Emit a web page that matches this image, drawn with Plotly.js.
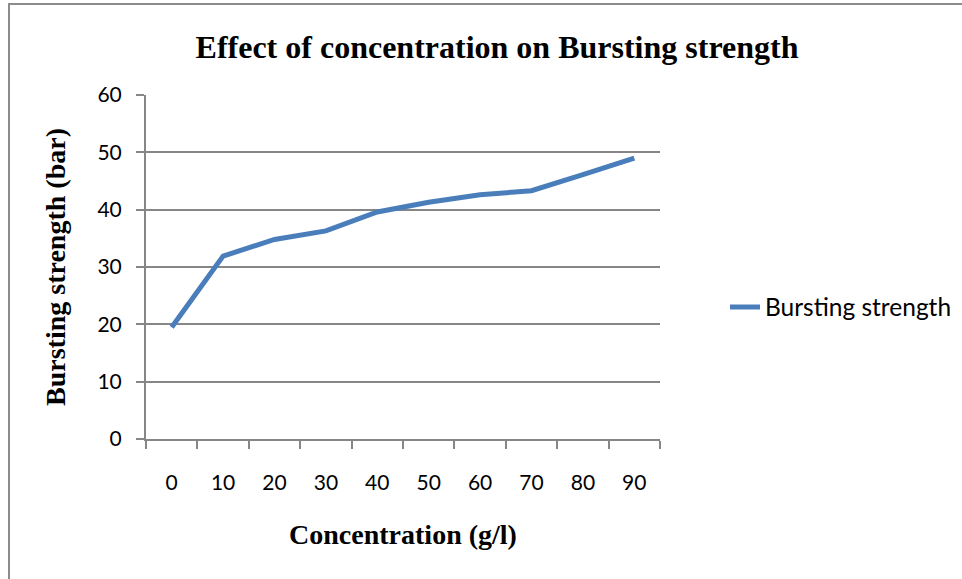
<!DOCTYPE html>
<html>
<head>
<meta charset="utf-8">
<script src="https://cdn.plot.ly/plotly-3.0.1.min.js"></script>
<style>
html,body{margin:0;padding:0;background:#fff;overflow:hidden;}
#wrap{position:relative;width:962px;height:579px;}
#chart{position:absolute;left:0;top:0;width:962px;height:579px;}
#frame{position:absolute;left:8px;top:3px;width:1000px;height:700px;border-left:2px solid #8c8c8c;border-top:2px solid #8c8c8c;pointer-events:none;}
</style>
</head>
<body>
<div id="wrap"><div id="chart"></div><div id="frame"></div></div>
<script>
const categories = ["0","10","20","30","40","50","60","70","80","90"];
const burstingStrength = [19.5, 31.9, 34.8, 36.3, 39.6, 41.3, 42.6, 43.3, 46.1, 49.0];
const seriesName = "Bursting strength";
const yTicks = [0, 10, 20, 30, 40, 50, 60];

const trace = {
  type: "scatter",
  mode: "lines",
  x: categories,
  y: burstingStrength,
  name: seriesName,
  line: {color: "#4A7EBB", width: 5},
  showlegend: true
};

const L = 146, R = 4, PW = 962 - L - R;
const layout = {
  width: 962, height: 579,
  margin: {l: L, r: R, t: 95, b: 140},
  paper_bgcolor: "#ffffff",
  plot_bgcolor: "#ffffff",
  font: {family: "Lato, 'Open Sans', sans-serif", color: "#000", size: 18},
  title: {
    text: "<b>Effect of concentration on Bursting strength</b>",
    font: {family: "'Liberation Serif', 'Times New Roman', serif", size: 32, color: "#000"},
    x: 497/962, xref: "container", xanchor: "center",
    y: 1 - 47/579, yref: "container", yanchor: "middle"
  },
  xaxis: {
    domain: [0, (660 - L) / PW],
    type: "category",
    categoryorder: "array",
    categoryarray: categories,
    range: [-0.5, 9.5],
    showgrid: false,
    zeroline: false,
    showline: true, linecolor: "#868686", linewidth: 2,
    ticks: "outside", tickson: "boundaries", ticklen: 8, tickcolor: "#868686", tickwidth: 2,
    ticklabelstandoff: 24,
    tickfont: {family: "Lato, 'Open Sans', sans-serif", size: 21, color: "#000"},
    title: {
      text: "<b>Concentration (g/l)</b>",
      font: {family: "'Liberation Serif', 'Times New Roman', serif", size: 28, color: "#000"},
      standoff: 31
    }
  },
  yaxis: {
    range: [0, 60],
    tickvals: yTicks,
    showgrid: true, gridcolor: "#868686", gridwidth: 2,
    zeroline: false,
    showline: true, linecolor: "#868686", linewidth: 2,
    ticks: "outside", ticklen: 8, tickcolor: "#868686", tickwidth: 2,
    ticklabelstandoff: 10,
    tickfont: {family: "Lato, 'Open Sans', sans-serif", size: 21, color: "#000"},
    title: {
      text: "<b>Bursting strength (bar)</b>",
      font: {family: "'Liberation Serif', 'Times New Roman', serif", size: 28, color: "#000"},
      standoff: 24
    }
  },
  legend: {
    x: (725 - L) / PW, xanchor: "left",
    y: (439 - 307) / 344, yanchor: "middle",
    bgcolor: "rgba(0,0,0,0)",
    font: {family: "Lato, 'Open Sans', sans-serif", size: 24.5, color: "#000"},
    itemwidth: 30
  },
  showlegend: true
};

Plotly.newPlot("chart", [trace], layout, {displayModeBar: false, staticPlot: true});
</script>
</body>
</html>
